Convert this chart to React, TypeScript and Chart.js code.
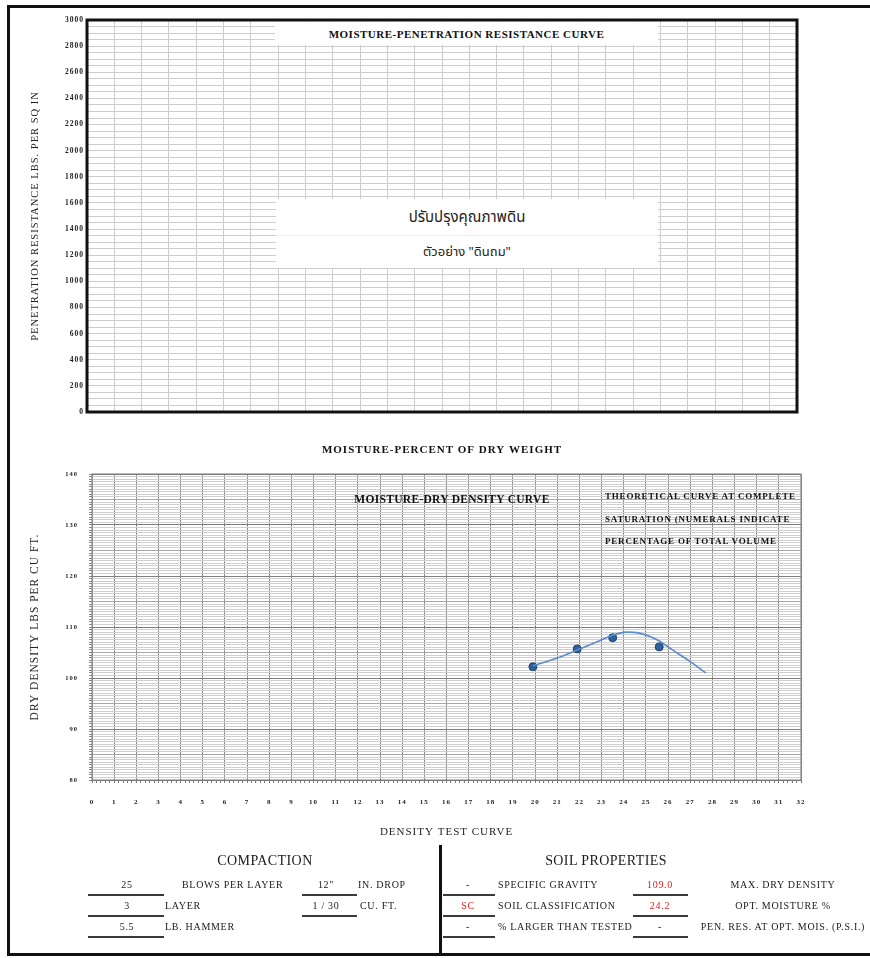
import React, { useEffect, useRef } from "react";
import { Chart, registerables } from "chart.js";

Chart.register(...registerables);

const SERIF = "'Liberation Serif', 'Times New Roman', serif";
const THAI = "'Noto Sans Thai', 'Tahoma', 'Noto Sans', 'DejaVu Sans', sans-serif";

// ---------- Top chart: moisture-penetration resistance (empty grid) ----------
const penTickLabels = ["0", "200", "400", "600", "800", "1000", "1200", "1400", "1600", "1800", "2000", "2200", "2400", "2600", "2800", "3000"];
const penAxisMin = 0;
const penAxisMax = 3000;
const penGridStep = 50;
const penMoistureMin = 0;
const penMoistureMax = 26;

// ---------- Bottom chart: moisture-dry density ----------
const densityTickLabels = ["80", "90", "100", "110", "120", "130", "140"];
const densityMin = 80;
const densityMax = 140;
const moistureTickLabels = ["0", "1", "2", "3", "4", "5", "6", "7", "8", "9", "10", "11", "12", "13", "14", "15", "16", "17", "18", "19", "20", "21", "22", "23", "24", "25", "26", "27", "28", "29", "30", "31", "32"];
const moistureMin = 0;
const moistureMax = 32;

const testMoisture = [19.9, 21.9, 23.5, 25.6];
const testDensity = [102.2, 105.7, 107.9, 106.1];

const curveMoisture = [19.9, 21.0, 21.9, 22.8, 23.5, 24.1, 24.7, 25.5, 26.2, 27.0, 27.7];
const curveDensity = [102.4, 103.9, 105.5, 107.1, 108.4, 109.0, 108.8, 107.5, 105.5, 103.2, 101.0];

const framePlugin = {
  id: "frame",
  beforeDraw(chart: any) {
    try {
      chart.ctx.letterSpacing = "1px";
    } catch (e) {}
  },
  afterDraw(chart: any, _args: any, opts: any) {
    const { ctx, chartArea } = chart;
    if (!chartArea) return;
    const { left, top, right, bottom } = chartArea;
    ctx.save();
    ctx.strokeStyle = opts.color || "#000";
    ctx.lineWidth = opts.width || 1;
    ctx.strokeRect(left, top, right - left, bottom - top);
    ctx.restore();
  },
};

const near = (v: number, step: number) => Math.abs(v / step - Math.round(v / step)) < 1e-6;

function T(props: { s: string; x: number; y: number; align?: "center" | "left"; size?: number; bold?: boolean; color?: string; family?: string; ls?: number }) {
  const { s, x, y, align = "center", size = 10, bold = false, color = "#1a1a1a", family = SERIF, ls = 0.7 } = props;
  return (
    <div
      style={{
        position: "absolute",
        left: x,
        top: y,
        transform: align === "center" ? "translate(-50%, -50%)" : "translate(0, -50%)",
        whiteSpace: "nowrap",
        fontFamily: family,
        fontSize: size,
        fontWeight: bold ? 700 : 400,
        color,
        letterSpacing: ls,
        lineHeight: 1,
      }}
    >
      {s}
    </div>
  );
}

function Line(props: { x: number; y: number; w: number; h?: number }) {
  const { x, y, w, h = 2 } = props;
  return <div style={{ position: "absolute", left: x, top: y, width: w, height: h, background: "#3a3a3a" }} />;
}

export default function App() {
  const topRef = useRef<HTMLCanvasElement>(null);
  const botRef = useRef<HTMLCanvasElement>(null);

  useEffect(() => {
    const lightGrid = "#cdcdcd";
    const top = new Chart(topRef.current as HTMLCanvasElement, {
      type: "line",
      data: { datasets: [{ data: [] as any[] }] },
      plugins: [framePlugin as any],
      options: {
        responsive: false,
        animation: false,
        layout: { padding: { top: 20, right: 73, left: 0, bottom: 0 } },
        plugins: {
          legend: { display: false },
          tooltip: { enabled: false },
          frame: { color: "#111", width: 3 },
        } as any,
        scales: {
          x: {
            type: "linear",
            min: penMoistureMin,
            max: penMoistureMax,
            afterFit: (s: any) => {
              s.height = 46;
            },
            ticks: { display: false, stepSize: 1 },
            grid: { color: lightGrid, drawTicks: false },
            border: { display: false },
            title: {
              display: true,
              text: "MOISTURE-PERCENT OF DRY WEIGHT",
              color: "#111",
              font: { family: SERIF, size: 11, weight: "bold" },
              padding: { top: 30, bottom: 1.4 },
            },
          },
          y: {
            type: "linear",
            min: penAxisMin,
            max: penAxisMax,
            afterFit: (s: any) => {
              s.width = 87;
            },
            ticks: {
              stepSize: penGridStep,
              autoSkip: false,
              padding: 3,
              color: "#222",
              font: { family: SERIF, size: 7.5, weight: "bold" },
              callback: (v: any) => (penTickLabels.includes(String(v)) ? String(v) : ""),
            },
            grid: { color: lightGrid, drawTicks: false },
            border: { display: false },
            title: {
              display: true,
              text: "PENETRATION RESISTANCE LBS. PER SQ IN",
              color: "#222",
              font: { family: SERIF, size: 10.5 },
              padding: { top: 28.7, bottom: 0 },
            },
          },
        },
      } as any,
    });

    const bot = new Chart(botRef.current as HTMLCanvasElement, {
      type: "line",
      data: {
        datasets: [
          {
            type: "line",
            data: curveMoisture.map((x, i) => ({ x, y: curveDensity[i] })),
            borderColor: "#5b8ccb",
            borderWidth: 1.6,
            pointRadius: 0,
            cubicInterpolationMode: "monotone",
            fill: false,
          },
          {
            type: "scatter",
            data: testMoisture.map((x, i) => ({ x, y: testDensity[i] })),
            backgroundColor: "#2e5e9c",
            borderColor: "#1d416f",
            borderWidth: 1,
            pointRadius: 4,
          },
        ],
      } as any,
      plugins: [framePlugin as any],
      options: {
        responsive: false,
        animation: false,
        layout: { padding: { top: 16, right: 69, left: 0, bottom: 0 } },
        plugins: {
          legend: { display: false },
          tooltip: { enabled: false },
          frame: { color: "#7a7a7a", width: 1 },
        } as any,
        scales: {
          x: {
            type: "linear",
            min: moistureMin,
            max: moistureMax,
            afterFit: (s: any) => {
              s.height = 63;
            },
            ticks: {
              stepSize: 0.2,
              autoSkip: false,
              maxRotation: 0,
              padding: 14.8,
              color: "#222",
              font: { family: SERIF, size: 7, weight: "bold" },
              callback: (v: any) => {
                const r = Math.round(Number(v));
                return near(Number(v), 1) && moistureTickLabels.includes(String(r)) ? String(r) : "";
              },
            },
            grid: {
              color: (c: any) => (c.tick && near(c.tick.value, 1) ? "#8c8c8c" : "rgba(0,0,0,0)"),
              tickColor: "#777",
              tickLength: 3,
            },
            border: { display: false },
            title: {
              display: true,
              text: "DENSITY TEST CURVE",
              color: "#222",
              font: { family: SERIF, size: 11 },
              padding: { top: 0, bottom: 4.4 },
            },
          },
          y: {
            type: "linear",
            min: densityMin,
            max: densityMax,
            afterFit: (s: any) => {
              s.width = 92;
            },
            ticks: {
              stepSize: 0.5,
              autoSkip: false,
              padding: 11,
              color: "#222",
              font: { family: SERIF, size: 6.5, weight: "bold" },
              callback: (v: any) => {
                const r = Math.round(Number(v));
                return near(Number(v), 10) && densityTickLabels.includes(String(r)) ? String(r) : "";
              },
            },
            grid: {
              color: (c: any) => {
                const v = c.tick ? c.tick.value : 0;
                if (near(v, 10)) return "#7d7d7d";
                if (near(v, 5)) return "#a8a8a8";
                return "#cfcfcf";
              },
              tickColor: "#888",
              tickLength: 3,
            },
            border: { display: false },
            title: {
              display: true,
              text: "DRY DENSITY LBS PER CU FT.",
              color: "#222",
              font: { family: SERIF, size: 11.5 },
              padding: { top: 28.1, bottom: 0 },
            },
          },
        },
      } as any,
    });

    return () => {
      top.destroy();
      bot.destroy();
    };
  }, []);

  return (
    <div style={{ position: "fixed", left: 0, top: 0, width: 870, height: 958, background: "#fff", overflow: "hidden" }}>
      <canvas ref={topRef} width={870} height={458} style={{ position: "absolute", left: 0, top: 0, width: 870, height: 458 }} />
      <canvas ref={botRef} width={870} height={385} style={{ position: "absolute", left: 0, top: 458, width: 870, height: 385 }} />

      {/* outer frame */}
      <div style={{ position: "absolute", left: 7, top: 5, width: 880, height: 951, border: "3px solid #111", boxSizing: "border-box" }} />

      {/* top chart title box */}
      <div
        style={{
          position: "absolute",
          left: 275,
          top: 22,
          width: 383,
          height: 23,
          background: "#fff",
          display: "flex",
          alignItems: "center",
          justifyContent: "center",
          fontFamily: SERIF,
          fontWeight: 700,
          fontSize: 11,
          letterSpacing: 0.5,
          color: "#111",
        }}
      >
        MOISTURE-PENETRATION RESISTANCE CURVE
      </div>

      {/* Thai label box */}
      <div style={{ position: "absolute", left: 276, top: 199, width: 382, height: 69, background: "#fff" }}>
        <div style={{ position: "absolute", left: 0, top: 0, width: 382, height: 36, borderBottom: "1px solid #eeeeee", display: "flex", alignItems: "center", justifyContent: "center", fontFamily: THAI, fontSize: 15, color: "#222" }}>
          ปรับปรุงคุณภาพดิน
        </div>
        <div style={{ position: "absolute", left: 0, top: 37, width: 382, height: 32, display: "flex", alignItems: "center", justifyContent: "center", fontFamily: THAI, fontSize: 13, color: "#222" }}>
          ตัวอย่าง "ดินถม"
        </div>
      </div>

      {/* bottom chart annotations */}
      <T s="MOISTURE-DRY DENSITY CURVE" x={452} y={500} size={11.5} bold color="#111" ls={0.3} />
      <T s="THEORETICAL CURVE AT COMPLETE" x={605} y={496} align="left" size={9} bold ls={0.8} color="#111" />
      <T s="SATURATION (NUMERALS INDICATE" x={605} y={519} align="left" size={9} bold ls={0.8} color="#111" />
      <T s="PERCENTAGE OF TOTAL VOLUME" x={605} y={541} align="left" size={9} bold ls={0.8} color="#111" />

      {/* table */}
      <div style={{ position: "absolute", left: 439, top: 845, width: 3, height: 111, background: "#111" }} />
      <T s="COMPACTION" x={265} y={861} size={14} ls={0.4} />
      <T s="SOIL PROPERTIES" x={606} y={861} size={14} ls={0.4} />

      <T s="25" x={127} y={885} />
      <T s="BLOWS PER LAYER" x={182} y={885} align="left" />
      <T s={'12"'} x={326} y={885} />
      <T s="IN. DROP" x={358} y={885} align="left" />
      <Line x={88} y={894} w={76} />
      <Line x={302} y={894} w={55} />

      <T s="3" x={127} y={906} />
      <T s="LAYER" x={165} y={906} align="left" />
      <T s="1 / 30" x={326} y={906} />
      <T s="CU. FT." x={360} y={906} align="left" />
      <Line x={88} y={915} w={76} />
      <Line x={302} y={915} w={55} />

      <T s="5.5" x={127} y={927} />
      <T s="LB. HAMMER" x={165} y={927} align="left" />
      <Line x={88} y={936} w={76} />

      <T s="-" x={468} y={885} />
      <T s="SPECIFIC GRAVITY" x={498} y={885} align="left" />
      <T s="109.0" x={660} y={885} color="#e0201c" />
      <T s="MAX. DRY DENSITY" x={783} y={885} />
      <Line x={443} y={894} w={52} />
      <Line x={633} y={894} w={55} />

      <T s="SC" x={468} y={906} color="#e0201c" />
      <T s="SOIL CLASSIFICATION" x={498} y={906} align="left" />
      <T s="24.2" x={660} y={906} color="#e0201c" />
      <T s="OPT. MOISTURE %" x={783} y={906} />
      <Line x={443} y={915} w={52} />
      <Line x={633} y={915} w={55} />

      <T s="-" x={468} y={927} />
      <T s="% LARGER THAN TESTED" x={498} y={927} align="left" />
      <T s="-" x={660} y={927} />
      <T s="PEN. RES. AT OPT. MOIS. (P.S.I.)" x={783} y={927} />
      <Line x={443} y={936} w={52} />
      <Line x={633} y={936} w={55} />
    </div>
  );
}
